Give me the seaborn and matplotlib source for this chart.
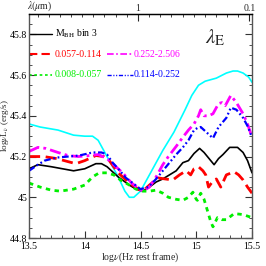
import numpy as np
import pandas as pd
import matplotlib
matplotlib.use("Agg")
import matplotlib.pyplot as plt
import seaborn as sns

# ---------------- data ----------------
cyan_x = [13.5, 13.6, 13.76, 13.9, 14.0, 14.07, 14.12, 14.18, 14.24, 14.3, 14.36, 14.4, 14.44,
          14.5, 14.55, 14.62, 14.7, 14.8, 14.9, 14.96, 15.02, 15.08, 15.18, 15.27, 15.33, 15.37,
          15.42, 15.47, 15.5]
cyan_y = [45.36, 45.345, 45.33, 45.305, 45.30, 45.30, 45.28, 45.22, 45.16, 45.10, 45.03, 45.0, 45.0,
          45.03, 45.08, 45.15, 45.23, 45.32, 45.43, 45.50, 45.55, 45.57, 45.585, 45.61, 45.62, 45.62,
          45.61, 45.59, 45.565]

black_x = [13.5, 13.58, 13.7, 13.8, 13.9, 14.0, 14.1, 14.15, 14.2, 14.3, 14.4, 14.46, 14.52, 14.58,
           14.64, 14.7, 14.76, 14.82, 14.88, 14.93, 14.98, 15.03, 15.07, 15.1, 15.16, 15.2, 15.24,
           15.3, 15.37, 15.42, 15.46, 15.5]
black_y = [45.14, 45.16, 45.15, 45.14, 45.13, 45.14, 45.165, 45.165, 45.15, 45.10, 45.06, 45.04, 45.03,
           45.05, 45.075, 45.09, 45.11, 45.13, 45.17, 45.18, 45.215, 45.24, 45.22, 45.20, 45.16, 45.19,
           45.21, 45.245, 45.245, 45.22, 45.18, 45.12]

red_x = [13.5, 13.63, 13.75, 13.85, 13.92, 14.0, 14.1, 14.17, 14.22, 14.3, 14.4, 14.48, 14.52, 14.58,
         14.66, 14.72, 14.79, 14.85, 14.91, 14.95, 14.98, 15.02, 15.06, 15.085, 15.11, 15.15, 15.18,
         15.22, 15.27, 15.34, 15.38, 15.42, 15.46, 15.5]
red_y = [45.20, 45.20, 45.19, 45.175, 45.165, 45.18, 45.205, 45.20, 45.18, 45.12, 45.07, 45.04, 45.03,
         45.06, 45.095, 45.09, 45.085, 45.11, 45.13, 45.11, 45.14, 45.15, 45.13, 45.11, 45.05, 45.08,
         45.09, 45.05, 45.11, 45.125, 45.11, 45.085, 45.05, 45.02]

green_x = [13.5, 13.6, 13.7, 13.78, 13.9, 14.0, 14.07, 14.13, 14.2, 14.26, 14.32, 14.4, 14.46, 14.52,
           14.58, 14.64, 14.7, 14.75, 14.82, 14.88, 14.93, 14.97, 15.0, 15.01, 15.04, 15.07, 15.1,
           15.13, 15.15, 15.19, 15.23, 15.27, 15.34, 15.42, 15.5]
green_y = [45.07, 45.05, 45.035, 45.03, 45.04, 45.06, 45.10, 45.12, 45.12, 45.11, 45.085, 45.06, 45.04,
           45.03, 45.03, 45.035, 45.02, 45.0, 44.99, 44.985, 45.0, 45.025, 44.99, 44.985, 45.02, 44.99,
           44.935, 44.88, 44.855, 44.90, 44.89, 44.89, 44.92, 44.915, 44.90]

mag_x = [13.5, 13.58, 13.65, 13.76, 13.85, 13.94, 14.05, 14.12, 14.2, 14.28, 14.34, 14.42, 14.48,
         14.52, 14.58, 14.64, 14.7, 14.75, 14.82, 14.88, 14.93, 14.98, 15.02, 15.04, 15.07, 15.11,
         15.15, 15.2, 15.23, 15.26, 15.31, 15.36, 15.42, 15.46, 15.5]
mag_y = [45.225, 45.245, 45.24, 45.22, 45.205, 45.20, 45.205, 45.21, 45.19, 45.15, 45.12, 45.07, 45.045,
         45.03, 45.05, 45.10, 45.16, 45.20, 45.25, 45.295, 45.33, 45.36, 45.40, 45.43, 45.40, 45.40,
         45.41, 45.46, 45.465, 45.45, 45.50, 45.465, 45.41, 45.36, 45.295]

blue_x = [13.5, 13.58, 13.64, 13.75, 13.85, 13.95, 14.07, 14.15, 14.2, 14.25, 14.3, 14.37, 14.43,
          14.5, 14.57, 14.64, 14.7, 14.76, 14.82, 14.88, 14.93, 14.98, 15.01, 15.04, 15.09, 15.15,
          15.2, 15.27, 15.31, 15.36, 15.42, 15.46, 15.5]
blue_y = [45.13, 45.16, 45.18, 45.195, 45.20, 45.205, 45.22, 45.22, 45.21, 45.17, 45.14, 45.095, 45.07,
          45.04, 45.05, 45.09, 45.13, 45.17, 45.21, 45.245, 45.28, 45.33, 45.34, 45.345, 45.32, 45.29,
          45.345, 45.39, 45.44, 45.43, 45.39, 45.35, 45.295]

legend_labels = [r"M$_{\rm BH}$ bin 3", "0.057-0.114", "0.252-2.506", "0.008-0.057", "0.114-0.252"]
x_ticks = [13.5, 14, 14.5, 15, 15.5]
y_ticks = [44.8, 45, 45.2, 45.4, 45.6, 45.8]

# ---------------- styling ----------------
sns.set_style("ticks")
plt.rcParams["font.family"] = ["Liberation Serif", "DejaVu Serif"]
plt.rcParams["mathtext.fontset"] = "stix"

fig = plt.figure(figsize=(2.66, 2.66), dpi=100)
ax = fig.add_axes([29 / 266, 28 / 266, 223 / 266, 224 / 266])

series = [
    (cyan_x, cyan_y, "#00ffff", "-", 1.2),
    (black_x, black_y, "black", "-", 1.2),
    (red_x, red_y, "#ff0000", (0, (4, 2)), 2.0),
    (green_x, green_y, "#00ee00", (0, (1.6, 1.6)), 2.0),
    (mag_x, mag_y, "#ff00ff", (0, (4, 1.5, 1, 1.5)), 2.0),
    (blue_x, blue_y, "#0000ff", (0, (3, 1.2, 0.8, 1.2, 0.8, 1.2)), 1.6),
]
for xs, ys, col, ls, lw in series:
    df = pd.DataFrame({"x": xs, "y": ys})
    sns.lineplot(data=df, x="x", y="y", ax=ax, color=col, linestyle=ls, linewidth=lw,
                 sort=False, estimator=None)

ax.set_xlim(13.5, 15.5)
ax.set_ylim(44.8, 45.9)
ax.set_xticks(x_ticks)
ax.set_xticklabels([f"{v:g}" for v in x_ticks])
ax.set_yticks(y_ticks)
ax.set_yticklabels([f"{v:g}" for v in y_ticks])
ax.set_xticks(np.arange(13.5, 15.51, 0.1), minor=True)
ax.set_yticks(np.arange(44.8, 45.91, 0.05), minor=True)
ax.tick_params(which="both", direction="in", top=False, right=True, labelsize=7,
               colors="#333333", labelcolor="black", pad=1.2)
ax.tick_params(axis="x", which="major", pad=3)
ax.tick_params(which="major", length=5, width=0.8)
ax.tick_params(which="minor", length=2.5, width=0.6)
for s in ax.spines.values():
    s.set_linewidth(1.0)
    s.set_color("#555555")
ax.spines["top"].set_color("black")

ax.set_xlabel(r"log$\nu$(Hz rest frame)", fontsize=7)
ax.xaxis.set_label_coords(0.5, -0.058)
ax.set_ylabel(r"log$\nu$L$_\nu$ (erg/s)", fontsize=6.6)
ax.yaxis.set_label_coords(-0.082, 0.5)

# top axis: wavelength in micron
off = 14.477
sec = ax.secondary_xaxis("top", functions=(lambda v: off - v, lambda v: off - v))
sec.set_xticks([0, -1])
sec.set_xticklabels(["1", "0.1"])
sec.set_xticks(np.arange(-1.0, 1.0, 0.1), minor=True)
sec.tick_params(which="both", direction="in", labelsize=7, pad=1)
sec.tick_params(which="major", length=5, width=0.8)
sec.tick_params(which="minor", length=2.5, width=0.6)
fig.text(0.103, 0.977, r"$\lambda(\mu$m)", fontsize=7, va="center", ha="left")

# legend drawn as in the original
tr = ax.transAxes
leg_rows = [
    (0.0, 0.103, 0.116, 0.911, "black", "-", 1.0, legend_labels[0], "black"),
    (0.0, 0.103, 0.116, 0.821, "#ff0000", (0, (4, 2)), 1.5, legend_labels[1], "#ff0000"),
    (0.35, 0.465, 0.468, 0.821, "#ff00ff", (0, (4, 1.5, 1, 1.5)), 1.2, legend_labels[2], "#ff00ff"),
    (0.0, 0.103, 0.116, 0.728, "#00ee00", (0, (1.6, 1.6)), 1.2, legend_labels[3], "#00ee00"),
    (0.35, 0.465, 0.468, 0.728, "#0000ff", (0, (3, 1.2, 0.8, 1.2, 0.8, 1.2)), 1.0, legend_labels[4], "#0000ff"),
]
for x0, x1, xt, yy, col, ls, lw, lab, tcol in leg_rows:
    ax.plot([x0, x1], [yy, yy], transform=tr, color=col, linestyle=ls, linewidth=lw)
    ax.text(xt, yy, lab, transform=tr, fontsize=7, color=tcol, va="center", ha="left")

ax.text(0.835, 0.895, r"$\lambda_{\rm E}$", transform=tr, fontsize=15, ha="center", va="center")

fig.savefig("out.png", dpi=100)
